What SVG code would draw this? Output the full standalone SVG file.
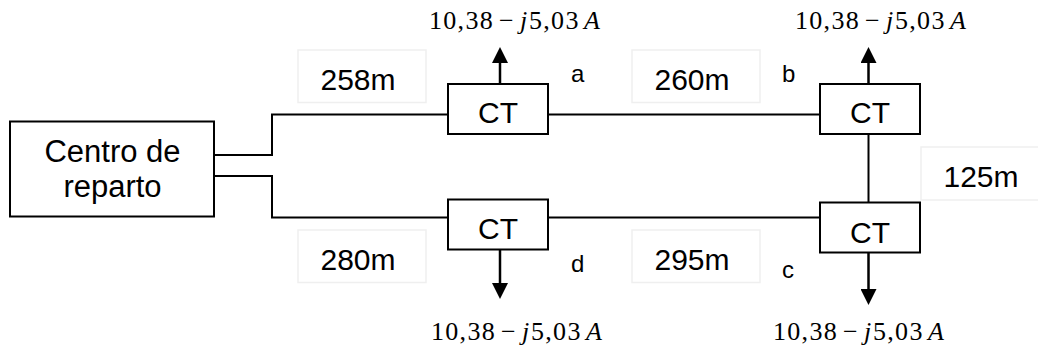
<svg xmlns="http://www.w3.org/2000/svg" width="1038" height="350" viewBox="0 0 1038 350">
<style>
.box{fill:#fff;stroke:#000;stroke-width:2}
.lbl{fill:#fff;stroke:#efefef;stroke-width:1.5}
.t{font-family:"Liberation Sans",Arial,sans-serif;font-size:30px;fill:#000;text-anchor:middle}
.s{font-family:"Liberation Sans",Arial,sans-serif;font-size:24px;fill:#000}
.m{font-family:"Liberation Serif","Times New Roman",serif;font-size:26px;fill:#000}
.m .n{letter-spacing:1.3px}
.m .i{font-style:italic}
.w{fill:none;stroke:#000;stroke-width:2}
.ar{fill:none;stroke:#000;stroke-width:2.5}
</style>
<defs>
<marker id="ah" viewBox="0 0 16 16" refX="0" refY="8" markerWidth="16" markerHeight="16" markerUnits="userSpaceOnUse" orient="auto">
<path d="M0,0 L16,8 L0,16 Z" fill="#000"/>
</marker>
</defs>
<g id="connectors">
<path class="w" d="M214,155 H272 V114.5 H448"/>
<path class="w" d="M214,176 H272 V217.5 H448"/>
<path class="w" d="M548,114.5 H820"/>
<path class="w" d="M548,217.5 H820"/>
<path class="w" d="M868.5,134 V202.5"/>
<path class="ar" d="M500,84 V63" marker-end="url(#ah)"/>
<path class="ar" d="M868.5,84 V63" marker-end="url(#ah)"/>
<path class="ar" d="M500,249.5 V283" marker-end="url(#ah)"/>
<path class="ar" d="M868.5,252.5 V289" marker-end="url(#ah)"/>
</g>
<g id="centro">
<rect class="box" x="10" y="121.5" width="204" height="95"/>
<text class="t" x="112.5" y="161.5" style="font-size:31px">Centro de</text>
<text class="t" x="112.5" y="196.5" style="font-size:31px">reparto</text>
</g>
<g id="ct-a">
<rect class="box" x="448" y="84" width="100" height="50"/>
<text class="t" x="498" y="123">CT</text>
</g>
<g id="ct-d">
<rect class="box" x="448" y="199.5" width="100" height="50"/>
<text class="t" x="498" y="239">CT</text>
</g>
<g id="ct-b">
<rect class="box" x="820" y="84" width="100" height="50"/>
<text class="t" x="870" y="123.3">CT</text>
</g>
<g id="ct-c">
<rect class="box" x="820" y="202.5" width="100" height="50"/>
<text class="t" x="870" y="242.7">CT</text>
</g>
<g id="labels">
<rect class="lbl" x="298" y="50" width="128" height="52.5"/>
<text class="t" x="358" y="90">258m</text>
<rect class="lbl" x="298" y="230" width="128" height="52.5"/>
<text class="t" x="358" y="270">280m</text>
<rect class="lbl" x="632" y="50" width="128" height="52.5"/>
<text class="t" x="692" y="90">260m</text>
<rect class="lbl" x="632" y="230" width="128" height="52.5"/>
<text class="t" x="692" y="270">295m</text>
<rect class="lbl" x="921" y="147" width="120" height="53"/>
<text class="t" x="981" y="187.3">125m</text>
<text class="s" x="571" y="81.7">a</text>
<text class="s" x="782" y="81.7">b</text>
<text class="s" x="782" y="278.3">c</text>
<text class="s" x="571" y="271.7">d</text>
</g>
<g id="currents">
<text class="m" y="29"><tspan class="n" x="429">10,38</tspan><tspan x="499">−</tspan><tspan class="i" x="520">j</tspan><tspan class="n" x="529">5,03</tspan><tspan class="i" x="584">A</tspan></text>
<text class="m" y="29"><tspan class="n" x="795">10,38</tspan><tspan x="865">−</tspan><tspan class="i" x="886">j</tspan><tspan class="n" x="895">5,03</tspan><tspan class="i" x="950">A</tspan></text>
<text class="m" y="340"><tspan class="n" x="431">10,38</tspan><tspan x="501">−</tspan><tspan class="i" x="522">j</tspan><tspan class="n" x="531">5,03</tspan><tspan class="i" x="586">A</tspan></text>
<text class="m" y="340"><tspan class="n" x="773">10,38</tspan><tspan x="843">−</tspan><tspan class="i" x="864">j</tspan><tspan class="n" x="873">5,03</tspan><tspan class="i" x="928">A</tspan></text>
</g>
</svg>
